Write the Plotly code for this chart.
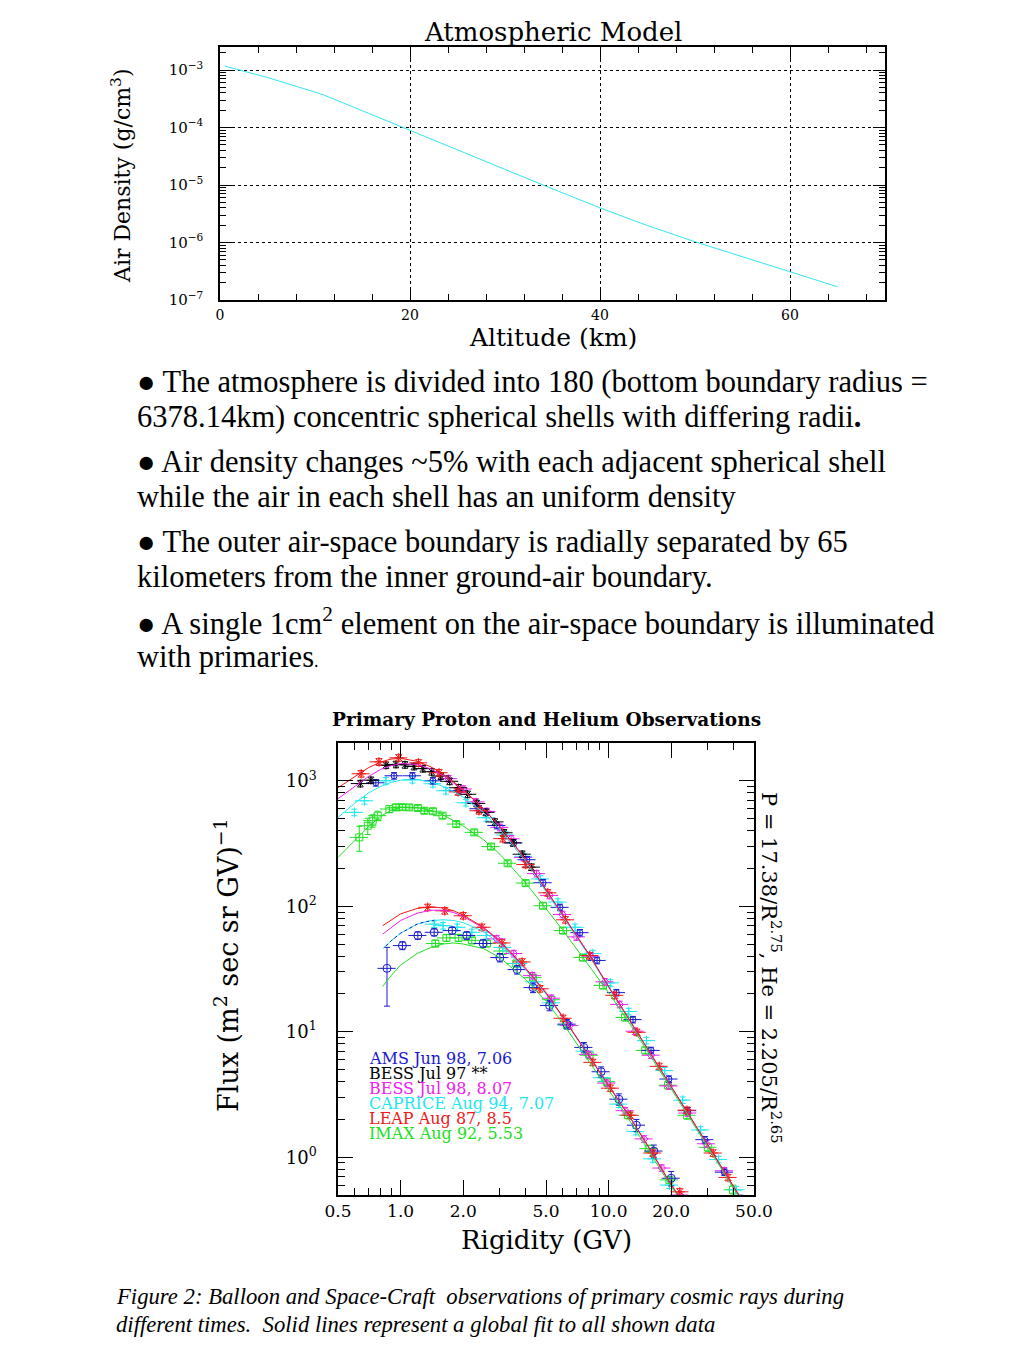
import plotly.graph_objects as go

# ---------------- Top chart data: atmospheric density ----------------
ALT_KM = [0.5, 5, 10, 11, 15, 20, 25, 30, 34, 40, 45, 50, 55, 60, 65]
AIR_DENSITY = [1.17e-3, 7.4e-4, 4.13e-4, 3.64e-4, 1.95e-4, 8.9e-5, 4.0e-5, 1.84e-5,
               1.0e-5, 4.0e-6, 1.97e-6, 1.03e-6, 5.7e-7, 3.1e-7, 1.7e-7]

# ---------------- Bottom chart: fit curves ----------------
P_R = [0.5, 0.6, 0.7, 0.8, 0.9, 1.0, 1.2, 1.4, 1.6, 1.8, 2.0, 2.5, 3.0, 4.0, 5.0, 6.0,
       8.0, 10, 13, 16, 20, 25, 30, 40, 45, 50]
LEAP_P_FIT = [880, 1080, 1270, 1410, 1490, 1510, 1430, 1290, 1130, 980, 850, 600, 430, 235,
              134, 85, 42, 22.9, 11.5, 6.6, 3.65, 2.02, 1.25, 0.58, 0.43, 0.32]
BESS98_P_FIT = [720, 900, 1080, 1230, 1320, 1370, 1350, 1240, 1100, 960, 840, 600, 430, 235,
                134, 85, 42, 22.9, 11.5, 6.6, 3.65, 2.02, 1.25, 0.58, 0.43, 0.32]
CAPRICE_P_FIT = [510, 660, 800, 900, 970, 1010, 1020, 980, 900, 820, 740, 560, 410, 228,
                 131, 83, 41, 22.5, 11.3, 6.5, 3.6, 2.0, 1.24, 0.58, 0.43, 0.32]
IMAX_P_FIT = [245, 330, 430, 520, 580, 610, 612, 580, 535, 480, 435, 340, 260, 153,
              96, 65, 34, 20.5, 10.8, 6.2, 3.5, 1.95, 1.2, 0.57, 0.42, 0.31]

HE_R = [0.82, 0.9, 1.0, 1.2, 1.4, 1.6, 1.8, 2.0, 2.5, 3.0, 4.0, 5.0, 6.0, 8.0, 10, 13, 16,
        20, 22, 25]
LEAP_HE_FIT = [70, 78, 87, 96, 99, 97, 92, 85, 68, 53, 32, 20.5, 13.3, 6.5, 3.7, 1.95, 1.12,
               0.6, 0.48, 0.35]
BESS98_HE_FIT = [60, 68, 77, 88, 93, 93, 89, 83, 67, 52, 31.5, 20.3, 13.2, 6.5, 3.7, 1.95,
                 1.12, 0.6, 0.48, 0.35]
CAPRICE_HE_FIT = [46, 53, 61, 72, 77, 78, 77, 74, 63, 50, 31, 20, 13.1, 6.4, 3.65, 1.93, 1.11,
                  0.6, 0.48, 0.35]
IMAX_HE_FIT = [23, 28, 34, 42, 47, 50, 51, 50, 46, 39, 26, 17.5, 11.8, 5.9, 3.4, 1.82, 1.05,
               0.58, 0.47, 0.34]
AMS_HE_FIT_R = [0.85, 0.9, 1.0, 1.1, 1.2, 1.3, 1.45]
AMS_HE_FIT = [48, 53, 61, 67, 72, 75, 77]

# ---------------- Bottom chart: observations (protons) ----------------
LEAP_P_R = [0.646, 0.787, 0.98, 1.22, 1.53, 1.89, 2.38, 3.1, 4.0, 5.1, 6.2, 8.1, 10.7, 13.7,
            17.5, 23.8, 31.8, 37.5]
LEAP_P_F = [1137, 1416, 1524, 1390, 1159, 815, 577, 346, 215, 128, 78, 40.5, 19.5, 9.9, 5.3,
            2.37, 1.08, 0.69]
BESS97_P_R = [0.64, 0.72, 0.85, 0.95, 1.05, 1.16, 1.28, 1.41, 1.56, 1.72, 1.9, 2.1, 2.32,
              2.57, 2.84, 3.14, 3.47, 3.84, 4.25]
BESS97_P_F = [950, 1010, 1330, 1350, 1340, 1300, 1250, 1180, 1090, 990, 880, 780, 660, 560,
              470, 385, 320, 260, 205]
AMS_P_R = [0.76, 0.93, 1.14, 1.43, 1.91, 2.38, 2.9, 3.5, 4.05, 4.84, 5.84, 7.28, 8.8, 10.9,
           13.1, 16.0, 19.5, 24, 29, 36, 43]
AMS_P_F = [964, 1096, 1096, 1000, 833, 599, 440, 320, 235, 154, 98, 61.6, 37, 20.5, 12.5,
           7.1, 4.2, 2.35, 1.38, 0.76, 0.47]
BESS98_P_R = [1.7, 2.0, 2.3, 2.6, 3.0, 3.4, 3.9, 4.5, 5.2, 6.0, 7.0, 8.2, 9.6, 11.3, 13.4, 16,
              19.5, 24, 29.5, 36, 44]
BESS98_P_F = [1040, 860, 680, 570, 425, 345, 245, 182, 122, 86, 57, 40, 25, 16.5, 10.1, 6.5,
              3.7, 2.25, 1.28, 0.78, 0.45]
CAPRICE_P_R = [0.6, 0.67, 0.85, 1.14, 1.43, 1.65, 2.06, 2.58, 3.2, 3.9, 4.7, 5.7, 6.9, 8.4,
               10.2, 12.5, 15.2, 18.6, 22.7, 27.7, 33.8, 41]
CAPRICE_P_F = [560, 693, 1000, 1020, 947, 833, 668, 508, 370, 250, 165, 108, 68, 42, 24.5,
               14.5, 8.5, 4.9, 2.85, 1.65, 0.96, 0.55]
IMAX_P_R = [0.633, 0.695, 0.734, 0.776, 0.883, 0.95, 1.02, 1.1, 1.21, 1.3, 1.43, 1.59, 1.85,
            2.26, 2.72, 3.27, 3.99, 4.84, 6.04, 7.53, 9.4, 12.0, 15.0, 19.3, 23.8, 30, 39.6]
IMAX_P_F = [354, 438, 481, 527, 596, 614, 616, 614, 607, 577, 572, 527, 452, 388, 299, 220,
            153, 101, 64, 39, 23.4, 13.0, 7.1, 3.75, 2.16, 1.2, 0.55]
IMAX_P_ERR = [80, 65, 55, 45, 40, 35, 30, 30, 30, 28, 28, 25, 22, 19, 15, 11, 8, 5.5, 3.5, 2.2,
              1.4, 0.8, 0.45, 0.25, 0.15, 0.09, 0.05]

# ---------------- Bottom chart: observations (helium) ----------------
LEAP_HE_R = [1.35, 1.63, 2.0, 2.46, 3.07, 3.84, 4.68, 6.04, 8.4, 10.2, 12.7, 16.3, 22.0]
LEAP_HE_F = [98, 92, 84, 68, 51, 36, 22, 12.8, 5.7, 3.55, 2.16, 1.08, 0.53]
AMS_HE_R = [0.86, 1.02, 1.21, 1.45, 1.77, 2.08, 2.49, 3.0, 3.63, 4.33, 5.2, 6.3, 7.6, 9.2,
            11.2, 13.6, 16.5, 20]
AMS_HE_F = [32, 48.6, 58.5, 62, 64, 58.5, 50.5, 39, 31.3, 22.5, 16.2, 11.5, 7.5, 4.8, 2.9,
            1.8, 1.12, 0.68]
AMS_HE_ERR_UP = [15, 3.5, 4, 4, 4, 4, 3.5, 3, 2.5, 2, 1.5, 1, 0.7, 0.45, 0.3, 0.2, 0.13, 0.09]
AMS_HE_ERR_DN = [16, 3.5, 4, 4, 4, 4, 3.5, 3, 2.5, 2, 1.5, 1, 0.7, 0.45, 0.3, 0.2, 0.13, 0.09]
BESS98_HE_R = [2.9, 3.5, 4.3, 5.3, 6.5, 8.0, 9.8, 12, 14.8, 18, 22]
BESS98_HE_F = [55, 42, 28, 18.5, 11.2, 6.6, 3.9, 2.35, 1.4, 0.82, 0.5]
CAPRICE_HE_R = [1.45, 1.6, 1.87, 2.2, 2.58, 3.1, 3.7, 4.4, 5.3, 6.4, 7.7, 9.3, 11.2, 13.5,
                16.3, 19.6]
CAPRICE_HE_F = [72, 70, 68, 62, 58.5, 47, 35, 25, 17, 11.2, 7.0, 4.3, 2.65, 1.6, 0.97, 0.6]
IMAX_HE_R = [1.47, 1.66, 1.9, 2.2, 2.6, 3.1, 3.6, 4.33, 5.3, 6.3, 8.1, 9.8, 12.4, 15.6, 19.6]
IMAX_HE_F = [50.5, 56, 56, 53.5, 50.5, 44, 35, 27, 18, 11.3, 6.5, 4.0, 2.16, 1.17, 0.66]

# ---------------- tick labels & texts ----------------
X_TICKS = [0.5, 1.0, 2.0, 5.0, 10.0, 20.0, 50.0]
X_TICK_TEXT = ["0.5", "1.0", "2.0", "5.0", "10.0", "20.0", "50.0"]
FLUX_TICKS = [1, 10, 100, 1000]
FLUX_TICK_TEXT = ["10<sup>0</sup>", "10<sup>1</sup>", "10<sup>2</sup>", "10<sup>3</sup>"]
DENS_TICKS = [1e-7, 1e-6, 1e-5, 1e-4, 1e-3]
DENS_TICK_TEXT = ["10<sup>\u22127</sup>", "10<sup>\u22126</sup>", "10<sup>\u22125</sup>",
                  "10<sup>\u22124</sup>", "10<sup>\u22123</sup>"]
ALT_TICKS = [0, 20, 40, 60]

LEGEND_TEXT = ["AMS Jun 98, 7.06", "BESS Jul 97 **", "BESS Jul 98, 8.07",
               "CAPRICE Aug 94, 7.07", "LEAP Aug 87, 8.5", "IMAX Aug 92, 5.53"]

BULLETS = [
    "\u25CF The atmosphere is divided into 180 (bottom boundary radius =",
    "6378.14km) concentric spherical shells with differing radii<b>.</b>",
    "\u25CF Air density changes ~5% with each adjacent spherical shell",
    "while the air in each shell has an uniform density",
    "\u25CF The outer air-space boundary is radially separated by 65",
    "kilometers from the inner ground-air boundary.",
    "\u25CF A single 1cm<sup>2</sup> element on the air-space boundary is illuminated",
    "with primaries<span style='font-size:18px'>.</span>",
]
CAPTION = [
    "<i>Figure 2: Balloon and Space-Craft  observations of primary cosmic rays during</i>",
    "<i>different times.  Solid lines represent a global fit to all shown data</i>",
]

# ---------------- colours ----------------
BLUE = "#1a1ad0"
BLACK = "#000000"
MAGENTA = "#f020f0"
CYAN = "#20e8f0"
RED = "#f01818"
GREEN = "#20e020"
COLORS = [BLUE, BLACK, MAGENTA, CYAN, RED, GREEN]

W, H = 1024, 1365
CHART_FONT = "DejaVu Serif"
TEXT_FONT = "Liberation Serif"


def px(x):
    return x / W


def py(y):
    return 1 - y / H


fig = go.Figure()

# ---- top chart ----
fig.add_trace(go.Scatter(x=ALT_KM, y=AIR_DENSITY, mode="lines",
                         line=dict(color="#30e6f0", width=1),
                         xaxis="x", yaxis="y", showlegend=False))


def obs(xs, ys, color, symbol, errx=10, erry=None, erry_pct=6, erry_minus=None, size=7):
    ey = dict(type="percent", value=erry_pct, color=color, thickness=1, width=3)
    if erry is not None:
        ey = dict(type="data", array=erry, color=color, thickness=1, width=3)
        if erry_minus is not None:
            ey["arrayminus"] = erry_minus
            ey["symmetric"] = False
    return go.Scatter(x=xs, y=ys, mode="markers", xaxis="x2", yaxis="y2", showlegend=False,
                      marker=dict(symbol=symbol, size=size, color=color,
                                  line=dict(color=color, width=1)),
                      error_x=dict(type="percent", value=errx, color=color, thickness=1, width=0),
                      error_y=ey)


def fit(xs, ys, color, dash="solid"):
    return go.Scatter(x=xs, y=ys, mode="lines", xaxis="x2", yaxis="y2", showlegend=False,
                      line=dict(color=color, width=1, dash=dash))


# observations
fig.add_trace(obs(IMAX_P_R, IMAX_P_F, GREEN, "square-open", erry=IMAX_P_ERR))
fig.add_trace(obs(IMAX_HE_R, IMAX_HE_F, GREEN, "square-open"))
fig.add_trace(obs(CAPRICE_P_R, CAPRICE_P_F, CYAN, "cross-thin-open"))
fig.add_trace(obs(CAPRICE_HE_R, CAPRICE_HE_F, CYAN, "cross-thin-open"))
fig.add_trace(obs(BESS98_P_R, BESS98_P_F, MAGENTA, "diamond-open", size=6))
fig.add_trace(obs(BESS98_HE_R, BESS98_HE_F, MAGENTA, "diamond-open", size=6))
fig.add_trace(obs(AMS_P_R, AMS_P_F, BLUE, "circle-open", size=6))
fig.add_trace(obs(AMS_HE_R, AMS_HE_F, BLUE, "circle-open", erry=AMS_HE_ERR_UP,
                  erry_minus=AMS_HE_ERR_DN, size=8))
fig.add_trace(obs(BESS97_P_R, BESS97_P_F, BLACK, "asterisk-open", size=7))
fig.add_trace(obs(LEAP_P_R, LEAP_P_F, RED, "asterisk-open", size=8))
fig.add_trace(obs(LEAP_HE_R, LEAP_HE_F, RED, "asterisk-open", size=8))

# fits
fig.add_trace(fit(P_R, IMAX_P_FIT, GREEN))
fig.add_trace(fit(P_R, CAPRICE_P_FIT, CYAN))
fig.add_trace(fit(P_R, BESS98_P_FIT, MAGENTA))
fig.add_trace(fit(P_R, LEAP_P_FIT, RED))
fig.add_trace(fit(HE_R, IMAX_HE_FIT, GREEN))
fig.add_trace(fit(HE_R, CAPRICE_HE_FIT, CYAN))
fig.add_trace(fit(AMS_HE_FIT_R, AMS_HE_FIT, BLUE, dash="dot"))
fig.add_trace(fit(HE_R, BESS98_HE_FIT, MAGENTA))
fig.add_trace(fit(HE_R, LEAP_HE_FIT, RED))


def axis_common(size):
    return dict(showline=True, linecolor="black", linewidth=1.5, mirror="allticks",
                ticks="inside", tickcolor="black", zeroline=False, automargin=False,
                tickfont=dict(family=CHART_FONT, size=size, color="black"))


annotations = []


def ann(text, x, y, size, family=CHART_FONT, xanchor="center", angle=0, color="black"):
    annotations.append(dict(text=text, x=px(x), y=py(y), xref="paper", yref="paper",
                            showarrow=False, xanchor=xanchor, yanchor="middle",
                            textangle=angle, font=dict(family=family, size=size, color=color)))


ann("Atmospheric Model", 553, 32, 26)
ann("Altitude (km)", 553, 337, 25)
ann("Air Density (g/cm<sup>3</sup>)", 121, 176, 22, angle=-90)
ann("<b>Primary Proton and Helium Observations</b>", 546, 719, 18.5)
ann("Rigidity (GV)", 546, 1240, 26)
ann("Flux (m<sup>2</sup> sec sr GV)<sup>\u22121</sup>", 226, 965, 27, angle=-90)
ann("P = 17.38/R<sup>2.75</sup>, He = 2.205/R<sup>2.65</sup>", 771, 968, 21, angle=90)

for i, (t, c) in enumerate(zip(LEGEND_TEXT, COLORS)):
    ann(t, 367, 1058 + 15 * i, 16, xanchor="left", color=c)

bullet_y = [382, 417, 462, 497, 542, 577, 622, 657]
for t, yy in zip(BULLETS, bullet_y):
    ann(t, 135, yy, 30.5, family=TEXT_FONT, xanchor="left")

for t, yy in zip(CAPTION, [1296, 1324]):
    ann(t, 114, yy, 22.7, family=TEXT_FONT, xanchor="left")

fig.update_layout(
    width=W, height=H, margin=dict(l=0, r=0, t=0, b=0, pad=0, autoexpand=False),
    autosize=False,
    paper_bgcolor="white", plot_bgcolor="white",
    xaxis=dict(domain=[px(220), px(885)], anchor="y", range=[0, 70],
               tickvals=ALT_TICKS, ticklen=12,
               showgrid=True, gridcolor="black", griddash="dot", gridwidth=1,
               minor=dict(ticks="inside", ticklen=6, dtick=4, tick0=0, tickcolor="black",
                          showgrid=False),
               ticklabelstandoff=1,
               **axis_common(14)),
    yaxis=dict(domain=[py(300), py(47)], anchor="x", type="log", range=[-7, -2.6],
               tickvals=DENS_TICKS, ticktext=DENS_TICK_TEXT, ticklen=12,
               showgrid=True, gridcolor="black", griddash="dot", gridwidth=1,
               minor=dict(ticks="inside", ticklen=6, dtick="D1", tickcolor="black",
                          showgrid=False),
               ticklabelstandoff=12,
               **axis_common(15)),
    xaxis2=dict(domain=[px(338), px(754)], anchor="y2", type="log",
                range=[-0.30103, 1.69897], tickvals=X_TICKS, ticktext=X_TICK_TEXT,
                ticklen=15, showgrid=False,
                minor=dict(ticks="inside", ticklen=7, dtick="D1", tickcolor="black",
                           showgrid=False),
                ticklabelstandoff=0,
                **axis_common(17)),
    yaxis2=dict(domain=[py(1195), py(743)], anchor="x2", type="log",
                range=[-0.30103, 3.30103], tickvals=FLUX_TICKS, ticktext=FLUX_TICK_TEXT,
                ticklen=15, showgrid=False,
                minor=dict(ticks="inside", ticklen=7, dtick="D1", tickcolor="black",
                           showgrid=False),
                ticklabelstandoff=16,
                **axis_common(18)),
    annotations=annotations,
)

fig.write_html(
    "out.html",
    config={"displayModeBar": False, "responsive": False},
    post_script=("document.documentElement.style.margin='0';"
                 "document.documentElement.style.overflow='hidden';"
                 "document.body.style.margin='0';"
                 "document.body.style.overflow='hidden';"),
)
